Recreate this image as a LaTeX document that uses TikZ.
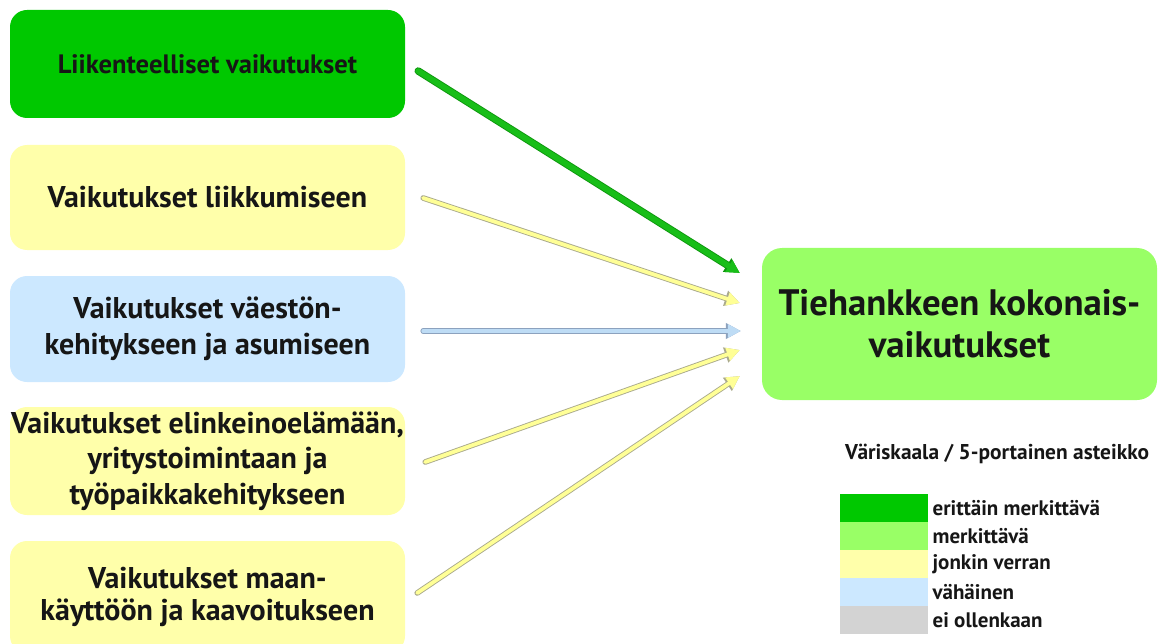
\documentclass[tikz,border=0pt]{standalone}
\usepackage{fontspec}
\setmainfont{PT Sans}
\usetikzlibrary{arrows.meta,calc}

\definecolor{strong}{RGB}{0,200,0}
\definecolor{notable}{RGB}{153,255,102}
\definecolor{some}{RGB}{255,255,170}
\definecolor{minor}{RGB}{204,232,255}
\definecolor{nil}{RGB}{211,211,211}
\definecolor{ink}{RGB}{22,22,22}
\definecolor{greenarrow}{RGB}{24,190,24}
\definecolor{greenedge}{RGB}{14,150,14}
\definecolor{yellowarrow}{RGB}{255,255,150}
\definecolor{yellowedge}{RGB}{170,170,140}
\definecolor{bluearrow}{RGB}{190,220,245}
\definecolor{blueedge}{RGB}{140,162,190}

\tikzset{
  effectbox/.style={fill=#1, rounded corners=17pt, minimum width=395pt,
    align=center, text=ink, font=\bfseries\fontsize{30}{35.5}\selectfont, inner sep=0pt},
  totalbox/.style={fill=notable, rounded corners=20pt, minimum width=395pt,
    minimum height=152pt, align=center, text=ink,
    font=\bfseries\fontsize{36.8}{42}\selectfont, inner sep=0pt},
  impact/.style n args={3}{draw=#1, line width=#3, line cap=round,
    -{Triangle[length=13pt,width=13pt]},
    preaction={draw=#2, line width=#3+1.8pt, line cap=round,
      -{Triangle[length=15pt,width=15pt]}}},
  swatch/.style={fill=#1, draw=none, minimum width=88pt, minimum height=27.6pt,
    inner sep=0pt, anchor=north west},
  swatchlabel/.style={anchor=west, text=ink, inner sep=0pt,
    font=\bfseries\fontsize{21}{23}\selectfont}
}

\begin{document}
\begin{tikzpicture}[x=1pt,y=-1pt]
  \useasboundingbox (0,0) rectangle (1158,644);

  % impact categories
  \node[effectbox=strong, minimum height=108pt, font=\bfseries\fontsize{26.6}{30}\selectfont]
    (traffic) at (207.5,64) {Liikenteelliset vaikutukset};
  \node[effectbox=some, minimum height=105pt]
    (mobility) at (207.5,197.5) {Vaikutukset liikkumiseen};
  \node[effectbox=minor, minimum height=106pt]
    (population) at (207.5,329) {Vaikutukset väestön-\\kehitykseen ja asumiseen};
  \node[effectbox=some, minimum height=108pt]
    (business) at (207.5,461) {Vaikutukset elinkeinoelämään,\\yritystoimintaan ja\\työpaikkakehitykseen};
  % this box runs past the lower edge of the page
  \node[effectbox=some, minimum height=112pt, font=\bfseries\fontsize{30}{32}\selectfont]
    (landuse) at (207.5,597) {Vaikutukset maan-\\käyttöön ja kaavoitukseen};

  % overall impact
  \node[totalbox] (total) at (959.5,324) {Tiehankkeen kokonais-\\vaikutukset};

  % arrow start and end points
  \coordinate (s1) at ($(traffic.east)+(13,7)$);
  \coordinate (s2) at ($(mobility.east)+(18,0.5)$);
  \coordinate (s3) at ($(population.east)+(18,2)$);
  \coordinate (s4) at ($(business.east)+(20,1)$);
  \coordinate (s5) at ($(landuse.east)+(12,-4)$);
  \coordinate (e1) at ($(total.west)+(-22,-51)$);
  \coordinate (e2) at ($(total.west)+(-22,-21)$);
  \coordinate (e3) at ($(total.west)+(-21,7)$);
  \coordinate (e4) at ($(total.west)+(-22,26)$);
  \coordinate (e5) at ($(total.west)+(-22,52)$);

  \draw[impact={greenarrow}{greenedge}{5.6pt}] (s1) -- (e1);
  \draw[impact={yellowarrow}{yellowedge}{3.8pt}] (s2) -- (e2);
  \draw[impact={bluearrow}{blueedge}{3.8pt}] (s3) -- (e3);
  \draw[impact={yellowarrow}{yellowedge}{3.8pt}] (s4) -- (e4);
  \draw[impact={yellowarrow}{yellowedge}{3.8pt}] (s5) -- (e5);

  % colour scale legend
  \node[anchor=base west, text=ink, inner sep=0pt, font=\bfseries\fontsize{21.4}{23}\selectfont]
    (scaletitle) at (845,459) {Väriskaala / 5-portainen asteikko};
  \node[swatch=strong] (k1) at (840,494) {};
  \node[swatch=notable] (k2) at (k1.south west) {};
  \node[swatch=some] (k3) at (k2.south west) {};
  \node[swatch=minor] (k4) at (k3.south west) {};
  \node[swatch=nil] (k5) at (k4.south west) {};
  \node[swatchlabel] (l1) at ($(k1.east)+(4,0)$) {erittäin merkittävä};
  \node[swatchlabel] (l2) at ($(k2.east)+(4,0)$) {merkittävä};
  \node[swatchlabel] (l3) at ($(k3.east)+(4,0)$) {jonkin verran};
  \node[swatchlabel] (l4) at ($(k4.east)+(4,0)$) {vähäinen};
  \node[swatchlabel] (l5) at ($(k5.east)+(4,0)$) {ei ollenkaan};
\end{tikzpicture}
\end{document}
